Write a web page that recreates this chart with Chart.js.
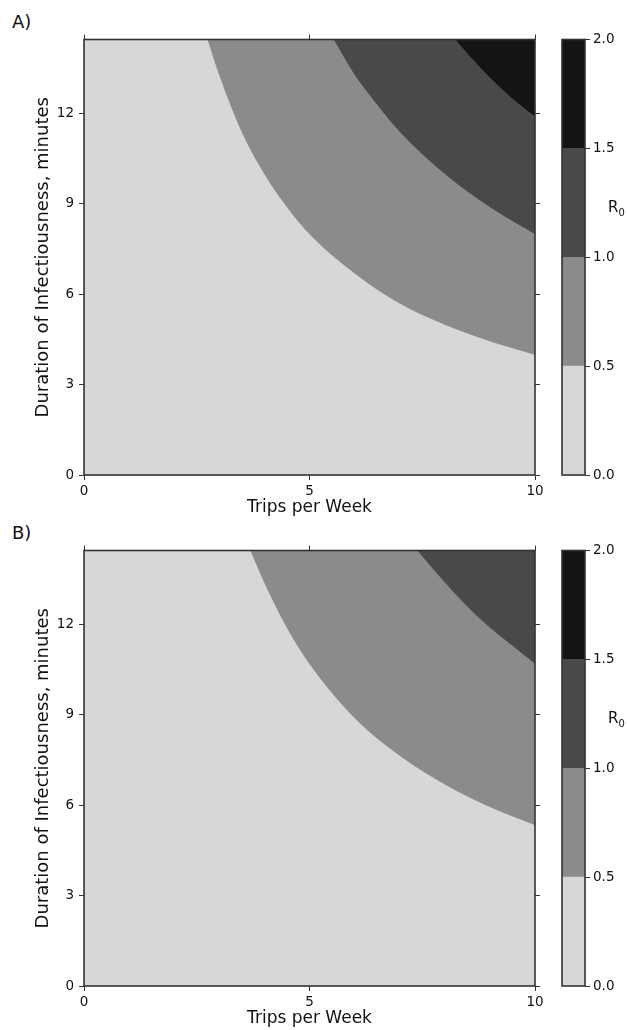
<!DOCTYPE html>
<html>
<head>
<meta charset="utf-8">
<script src="https://cdn.jsdelivr.net/npm/chart.js@4.4.1/dist/chart.umd.min.js"></script>
<style>
    body {
        margin: 0;
        background: #fff;
        width: 627px;
        height: 1030px;
        overflow: hidden;
        position: relative;
        font-family: "DejaVu Sans", sans-serif;
        color: #111;
    }
    canvas { position: absolute; }
    .tag { position: absolute; font-size: 18px; line-height: 20px; }
    .r0 { position: absolute; font-size: 15px; line-height: 16px; }
    .r0 span { font-size: 10px; position: relative; top: 4px; }
</style>
</head>
<body>

<div class="tag" style="left:12px; top:12px">A)</div>
<div class="tag" style="left:12px; top:523px">B)</div>

<canvas id="mainA" width="550" height="519" style="left:0; top:0"></canvas>
<canvas id="barA" width="77" height="519" style="left:550px; top:0"></canvas>
<div class="r0" style="left:608px; top:199px">R<span>0</span></div>

<canvas id="mainB" width="550" height="519" style="left:0; top:511px"></canvas>
<canvas id="barB" width="77" height="519" style="left:550px; top:511px"></canvas>
<div class="r0" style="left:608px; top:710px">R<span>0</span></div>

<script>
// =============================
// Data
// =============================
const tripTicks = [0, 5, 10];
const durationTicks = [0, 3, 6, 9, 12];
const tripsMax = 10;
const durationMax = 14.44;
const r0Levels = [0.0, 0.5, 1.0, 1.5, 2.0];

// Panel A - contour lines R0 = 0.5 / 1.0 / 1.5
const tripsA05 = [2.75, 3, 3.5, 4, 4.5, 5, 6, 7, 8, 9, 10];
const durA05   = [14.44, 13.3, 11.4, 10.0, 8.9, 8.0, 6.7, 5.7, 5.0, 4.45, 4.0];
const tripsA10 = [5.55, 6, 6.5, 7, 8, 9, 10];
const durA10   = [14.44, 13.3, 12.3, 11.4, 10.0, 8.9, 8.0];
const tripsA15 = [8.25, 8.5, 9, 9.5, 10];
const durA15   = [14.44, 14.0, 13.2, 12.5, 11.9];

// Panel B - contour lines R0 = 0.5 / 1.0
const tripsB05 = [3.7, 4, 4.5, 5, 6, 7, 8, 9, 10];
const durB05   = [14.44, 13.4, 11.9, 10.7, 8.9, 7.65, 6.7, 5.95, 5.35];
const tripsB10 = [7.4, 8, 8.5, 9, 9.5, 10];
const durB10   = [14.44, 13.4, 12.6, 11.9, 11.3, 10.7];

// =============================
// Styles
// =============================
const shades = ["#d7d7d7", "#8b8b8b", "#494949", "#141414"];
const FAMILY = "DejaVu Sans";
const tickFont = { family: FAMILY, size: 13.5 };
const xTitleFont = { family: FAMILY, size: 17 };
const yTitleFont = { family: FAMILY, size: 18 };
const INK = "#111";
const TICK = "#333";

// chart area background + frame
const framePlugin = {
    id: "frame",
    beforeDatasetsDraw(chart, args, opts) {
        if (!opts.fill) return;
        const a = chart.chartArea;
        const ctx = chart.ctx;
        ctx.save();
        ctx.fillStyle = opts.fill;
        ctx.fillRect(a.left, a.top, a.right - a.left, a.bottom - a.top);
        ctx.restore();
    },
    afterDraw(chart) {
        const a = chart.chartArea;
        const ctx = chart.ctx;
        ctx.save();
        ctx.strokeStyle = "#333";
        ctx.lineWidth = 1.6;
        ctx.strokeRect(a.left, a.top, a.right - a.left, a.bottom - a.top);
        ctx.restore();
    }
};

function setTicks(values) {
    return scale => {
        scale.ticks = values.map(v => ({ value: v }));
    };
}

function contour(trips, dur, level) {
    return {
        data: trips.map((t, i) => ({ x: t, y: dur[i] })),
        fill: "end",
        backgroundColor: shades[level],
        borderColor: shades[level],
        borderWidth: 1,
        pointRadius: 0,
        cubicInterpolationMode: "monotone",
        order: 10 - level
    };
}

function tickGrid() {
    return { drawOnChartArea: false, tickLength: 5, tickColor: TICK, tickWidth: 1 };
}

// -------------------------
// Main contour panel
// -------------------------
function makePanel(id, datasets) {
    new Chart(document.getElementById(id), {
        type: "line",
        data: { datasets: datasets },
        options: {
            responsive: false,
            animation: false,
            devicePixelRatio: 1,
            layout: { padding: { top: 34.5, left: 0, right: 10, bottom: 0 } },
            plugins: {
                legend: { display: false },
                tooltip: { enabled: false },
                frame: { fill: shades[0] }
            },
            scales: {
                x: {
                    type: "linear", min: 0, max: tripsMax,
                    afterBuildTicks: setTicks(tripTicks),
                    border: { display: false },
                    grid: tickGrid(),
                    ticks: { font: tickFont, color: INK, padding: 3, maxRotation: 0 },
                    title: { display: true, text: "Trips per Week", font: xTitleFont, color: INK, padding: { top: 0, bottom: 1 } },
                    afterFit: s => { s.height = 44; }
                },
                x2: {
                    type: "linear", position: "top", min: 0, max: tripsMax,
                    afterBuildTicks: setTicks(tripTicks),
                    border: { display: false },
                    grid: tickGrid(),
                    ticks: { display: false },
                    afterFit: s => { s.height = 5; }
                },
                y: {
                    type: "linear", min: 0, max: durationMax,
                    afterBuildTicks: setTicks(durationTicks),
                    border: { display: false },
                    grid: tickGrid(),
                    ticks: { font: tickFont, color: INK, padding: 5 },
                    title: { display: true, text: "Duration of Infectiousness, minutes", font: yTitleFont, color: INK, padding: { top: 33, bottom: 0 } },
                    afterFit: s => { s.width = 84; }
                },
                y2: {
                    type: "linear", position: "right", min: 0, max: durationMax,
                    afterBuildTicks: setTicks(durationTicks),
                    border: { display: false },
                    grid: tickGrid(),
                    ticks: { display: false },
                    afterFit: s => { s.width = 5; }
                }
            }
        },
        plugins: [framePlugin]
    });
}

// -------------------------
// Colour bar
// -------------------------
function makeColorbar(id) {
    new Chart(document.getElementById(id), {
        type: "bar",
        data: {
            labels: ["R0"],
            datasets: shades.map((c, i) => ({
                data: [[r0Levels[i], r0Levels[i + 1]]],
                backgroundColor: c,
                borderWidth: 0,
                barPercentage: 1,
                categoryPercentage: 1
            }))
        },
        options: {
            responsive: false,
            animation: false,
            devicePixelRatio: 1,
            layout: { padding: { top: 39.5, left: 12, right: 0, bottom: 44 } },
            plugins: {
                legend: { display: false },
                tooltip: { enabled: false },
                frame: {}
            },
            scales: {
                x: { display: false, stacked: true },
                y: {
                    position: "right", min: 0, max: 2, stacked: false,
                    afterBuildTicks: setTicks(r0Levels),
                    border: { display: false },
                    grid: tickGrid(),
                    ticks: { font: tickFont, color: INK, padding: 3, callback: v => v.toFixed(1) },
                    afterFit: s => { s.width = 42; }
                }
            }
        },
        plugins: [framePlugin]
    });
}

makePanel("mainA", [
    contour(tripsA05, durA05, 1),
    contour(tripsA10, durA10, 2),
    contour(tripsA15, durA15, 3)
]);
makeColorbar("barA");

makePanel("mainB", [
    contour(tripsB05, durB05, 1),
    contour(tripsB10, durB10, 2)
]);
makeColorbar("barB");
</script>
</body>
</html>
